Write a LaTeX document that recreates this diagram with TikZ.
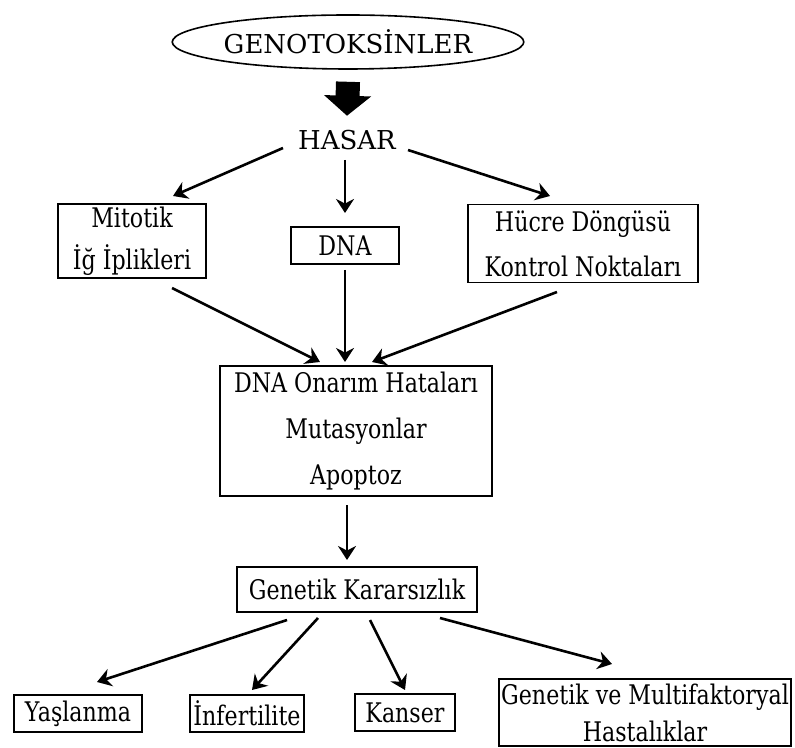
\documentclass[tikz,border=0pt]{standalone}
\usepackage{fontspec}
\setmainfont{DejaVu Serif}[FakeStretch=0.82]
\newfontfamily\capsfont{DejaVu Serif}
\usepackage{tikz}
\usetikzlibrary{arrows.meta, positioning, shapes.geometric}

\begin{document}
\begin{tikzpicture}[
  x=0.5pt, y=-0.5pt,
  txt/.style={font=\capsfont\fontsize{13}{15}\selectfont, inner sep=2pt},
  box/.style={draw, line width=0.9pt, inner sep=0pt, align=center, font=\fontsize{13.5}{15}\selectfont},
  genoellipse/.style={ellipse, draw, line width=0.8pt, inner sep=0pt, minimum width=150pt, minimum height=27pt, font=\capsfont\fontsize{13}{15}\selectfont},
  bigarrow/.style={line width=12pt, -{Triangle[length=10pt, width=23pt]}},
  flowarrow/.style={line width=1.3pt, -{Stealth[length=7pt, width=9pt]}},
]
  \useasboundingbox (0,0) rectangle (795,747);

  % Top: source and damage
  \node[genoellipse] (geno) at (348,42) {GENOTOKSİNLER};
  \node[txt] (hasar) at (347,140) {HASAR};
  \draw[bigarrow] ([yshift=-6pt]geno.south) -- ([yshift=5pt]hasar.north);

  % Level 2 targets
  \node[box, minimum width=74pt, minimum height=37pt, font=\fontsize{13.5}{21}\selectfont] (mito) at (132,241) {Mitotik\\ İğ İplikleri};
  \node[box, minimum width=54pt, minimum height=18.5pt] (dna) at (345,245.5) {DNA};
  \node[box, minimum width=115pt, minimum height=39pt, font=\fontsize{13.5}{22.5}\selectfont] (hucre) at (583,243.5) {Hücre Döngüsü\\ Kontrol Noktaları};

  \draw[flowarrow] ([shift={(-64,8)}]hasar.center) -- ([shift={(41,-45)}]mito.center);
  \draw[flowarrow] ([shift={(-2,20)}]hasar.center) -- ([shift={(0,-32.5)}]dna.center);
  \draw[flowarrow] ([shift={(61,10)}]hasar.center) -- ([shift={(-33,-47.5)}]hucre.center);

  % Level 3: consequences
  \node[box, minimum width=136pt, minimum height=65pt, font=\fontsize{13.5}{23}\selectfont] (onarim) at (356,431) {DNA Onarım Hataları\\ Mutasyonlar\\ Apoptoz};

  \draw[flowarrow] ([shift={(40,47)}]mito.center) -- ([shift={(-36,-69)}]onarim.center);
  \draw[flowarrow] ([shift={(0,24.5)}]dna.center) -- ([shift={(-11,-69)}]onarim.center);
  \draw[flowarrow] ([shift={(-26,48.5)}]hucre.center) -- ([shift={(16,-69)}]onarim.center);

  % Level 4: instability
  \node[box, minimum width=120pt, minimum height=22.5pt] (karar) at (357,589.5) {Genetik Kararsızlık};
  \draw[flowarrow] ([shift={(-9,74)}]onarim.center) -- ([shift={(-10,-29.5)}]karar.center);

  % Bottom row: outcomes
  \node[box, minimum width=64pt, minimum height=18.5pt] (yas) at (78,713.5) {Yaşlanma};
  \node[box, minimum width=57pt, minimum height=18.5pt] (inf) at (247,713.5) {İnfertilite};
  \node[box, minimum width=50pt, minimum height=18.5pt] (kanser) at (405,712.5) {Kanser};
  \node[box, minimum width=146pt, minimum height=33.5pt, font=\fontsize{13.5}{18.5}\selectfont] (hast) at (645,712.5) {Genetik ve Multifaktoryal\\ Hastalıklar};

  \draw[flowarrow] ([shift={(-70,30.5)}]karar.center) -- ([shift={(19,-31.5)}]yas.center);
  \draw[flowarrow] ([shift={(-39,28.5)}]karar.center) -- ([shift={(5,-23.5)}]inf.center);
  \draw[flowarrow] ([shift={(13,30.5)}]karar.center) -- ([shift={(0,-22.5)}]kanser.center);
  \draw[flowarrow] ([shift={(83,28.5)}]karar.center) -- ([shift={(-33,-48.5)}]hast.center);
\end{tikzpicture}
\end{document}
